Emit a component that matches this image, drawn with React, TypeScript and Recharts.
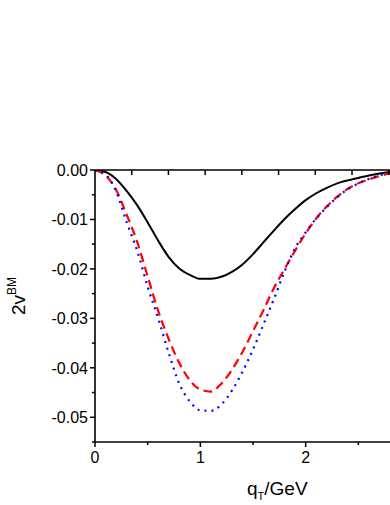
import React from 'react';
import { LineChart, Line, XAxis, YAxis } from 'recharts';

// q_T grid (GeV)
const qt = [0, 0.1, 0.2, 0.3, 0.4, 0.5, 0.6, 0.7, 0.8, 0.9, 1.0, 1.1, 1.2, 1.3, 1.4, 1.5, 1.6, 1.7, 1.8, 1.9, 2.0, 2.1, 2.2, 2.3, 2.4, 2.5, 2.6, 2.7, 2.8, 2.9, 3.0];

const solidCurve = [0, -0.0004, -0.0018, -0.0042, -0.0071, -0.0106, -0.0143, -0.0176, -0.0199, -0.0212, -0.022, -0.022, -0.0216, -0.0206, -0.0191, -0.017, -0.0146, -0.0122, -0.0099, -0.0079, -0.0061, -0.0047, -0.0036, -0.0027, -0.0021, -0.0016, -0.0011, -0.0007, -0.0004, -0.0002, -0.0001];
const dashedCurve = [0, -0.0011, -0.004, -0.009, -0.0145, -0.0215, -0.0285, -0.0342, -0.039, -0.0425, -0.0444, -0.0448, -0.0432, -0.0404, -0.0368, -0.0326, -0.0283, -0.0238, -0.02, -0.0163, -0.0128, -0.0098, -0.0074, -0.0054, -0.0038, -0.0027, -0.0019, -0.0012, -0.0007, -0.0004, -0.0002];
const dottedCurve = [0, -0.0009, -0.0043, -0.0105, -0.0163, -0.0236, -0.03, -0.037, -0.0432, -0.0468, -0.0486, -0.0487, -0.0474, -0.0446, -0.0408, -0.0363, -0.0312, -0.026, -0.0205, -0.0158, -0.0126, -0.0098, -0.0075, -0.0055, -0.0039, -0.0027, -0.0018, -0.0011, -0.0006, -0.0003, -0.0001];

const xMajorTicks = [0, 1, 2];
const xMinorTicks = [0.5, 1.5, 2.5];
const yMajorTicks = [0, -0.01, -0.02, -0.03, -0.04, -0.05];
const yMinorTicks = [-0.005, -0.015, -0.025, -0.035, -0.045, -0.055];
const topTicks = [0.349, 0.697, 1.046, 1.394, 1.743, 2.091, 2.44, 2.788];

const data = qt.map((q, i) => ({
    qt: q,
    solid: solidCurve[i],
    dashed: dashedCurve[i],
    dotted: dottedCurve[i],
}));

const FONT = '"Liberation Sans", Arial, sans-serif';

const CHART_W = 420;
const CHART_H = 505;
const MARGIN = { top: 140, right: 9, bottom: 33, left: 35 };
const X_AXIS_H = 30;
const PLOT_H = CHART_H - MARGIN.top - MARGIN.bottom - 2 * X_AXIS_H;

const near = (list: number[], v: number) => list.some((t) => Math.abs(t - v) < 1e-6);

const YTick = (props: any) => {
    const { x, y, payload } = props;
    const major = near(yMajorTicks, payload.value);
    return (
        <g>
            <line x1={x} y1={y} x2={x - (major ? 5 : 3)} y2={y} stroke="#000" strokeWidth={1.5} />
            {major && (
                <text x={x - 7} y={y} dy={6} textAnchor="end" fontSize={16} fontFamily={FONT} fill="#000">
                    {payload.value.toFixed(2)}
                </text>
            )}
        </g>
    );
};

// bottom ticks point outward; anything else is a top-frame tick hanging inward
const XTick = (props: any) => {
    const { x, y, payload } = props;
    const major = near(xMajorTicks, payload.value);
    const minor = near(xMinorTicks, payload.value);
    if (!major && !minor) {
        const top = y - PLOT_H;
        return (
            <g>
                <line x1={x} y1={top} x2={x} y2={top + 5} stroke="#000" strokeWidth={1.5} />
            </g>
        );
    }
    return (
        <g>
            <line x1={x} y1={y} x2={x} y2={y + (major ? 5 : 3)} stroke="#000" strokeWidth={1.5} />
            {major && (
                <text x={x} y={y + 21} textAnchor="middle" fontSize={16} fontFamily={FONT} fill="#000">
                    {payload.value}
                </text>
            )}
        </g>
    );
};

const YLabel = (props: any) => {
    const { viewBox } = props;
    const cx = viewBox.x - 10;
    const cy = viewBox.y + 126;
    return (
        <text x={cx} y={cy} transform={`rotate(-90, ${cx}, ${cy})`} textAnchor="middle" fontFamily={FONT} fill="#000">
            <tspan fontSize={19}>2v</tspan>
            <tspan fontSize={12} dy={-9}>BM</tspan>
        </text>
    );
};

const XLabel = (props: any) => {
    const { viewBox } = props;
    return (
        <text x={viewBox.x + 152} y={viewBox.y + 53} fontFamily={FONT} fill="#000">
            <tspan fontSize={19}>q</tspan>
            <tspan fontSize={11} dy={5}>T</tspan>
            <tspan fontSize={19} dy={-5}>/GeV</tspan>
        </text>
    );
};

export default function App() {
    return (
        <div style={{ position: 'absolute', left: 0, top: 0, width: 390, height: 505, overflow: 'hidden', background: '#fff' }}>
            <LineChart width={CHART_W} height={CHART_H} data={data} margin={MARGIN}>
                <XAxis
                    xAxisId="main"
                    dataKey="qt"
                    type="number"
                    domain={[0, 3]}
                    ticks={[...xMajorTicks, ...xMinorTicks, ...topTicks].sort((a, b) => a - b)}
                    interval={0}
                    tickSize={0}
                    tickMargin={0}
                    tickLine={false}
                    tick={<XTick />}
                    axisLine={{ stroke: '#000', strokeWidth: 1.6 }}
                    height={X_AXIS_H}
                    allowDataOverflow
                    label={<XLabel />}
                />
                <XAxis
                    xAxisId="top"
                    orientation="top"
                    dataKey="qt"
                    type="number"
                    domain={[0, 3]}
                    tick={false}
                    tickLine={false}
                    axisLine={{ stroke: '#000', strokeWidth: 1.6 }}
                    height={X_AXIS_H}
                    allowDataOverflow
                />
                <YAxis
                    yAxisId="main"
                    type="number"
                    domain={[-0.055, 0]}
                    ticks={[...yMajorTicks, ...yMinorTicks].sort((a, b) => b - a)}
                    interval={0}
                    tickSize={0}
                    tickMargin={0}
                    tickLine={false}
                    tick={<YTick />}
                    axisLine={{ stroke: '#000', strokeWidth: 1.6 }}
                    width={60}
                    allowDataOverflow
                    label={<YLabel />}
                />
                <Line xAxisId="main" yAxisId="main" type="monotone" dataKey="solid" stroke="#000000" strokeWidth={2} dot={false} isAnimationActive={false} />
                <Line xAxisId="main" yAxisId="main" type="monotone" dataKey="dashed" stroke="#ff0000" strokeWidth={2.2} strokeDasharray="9 5" dot={false} isAnimationActive={false} />
                <Line xAxisId="main" yAxisId="main" type="monotone" dataKey="dotted" stroke="#0000ff" strokeWidth={2.2} strokeDasharray="2 5" dot={false} isAnimationActive={false} />
            </LineChart>
        </div>
    );
}
